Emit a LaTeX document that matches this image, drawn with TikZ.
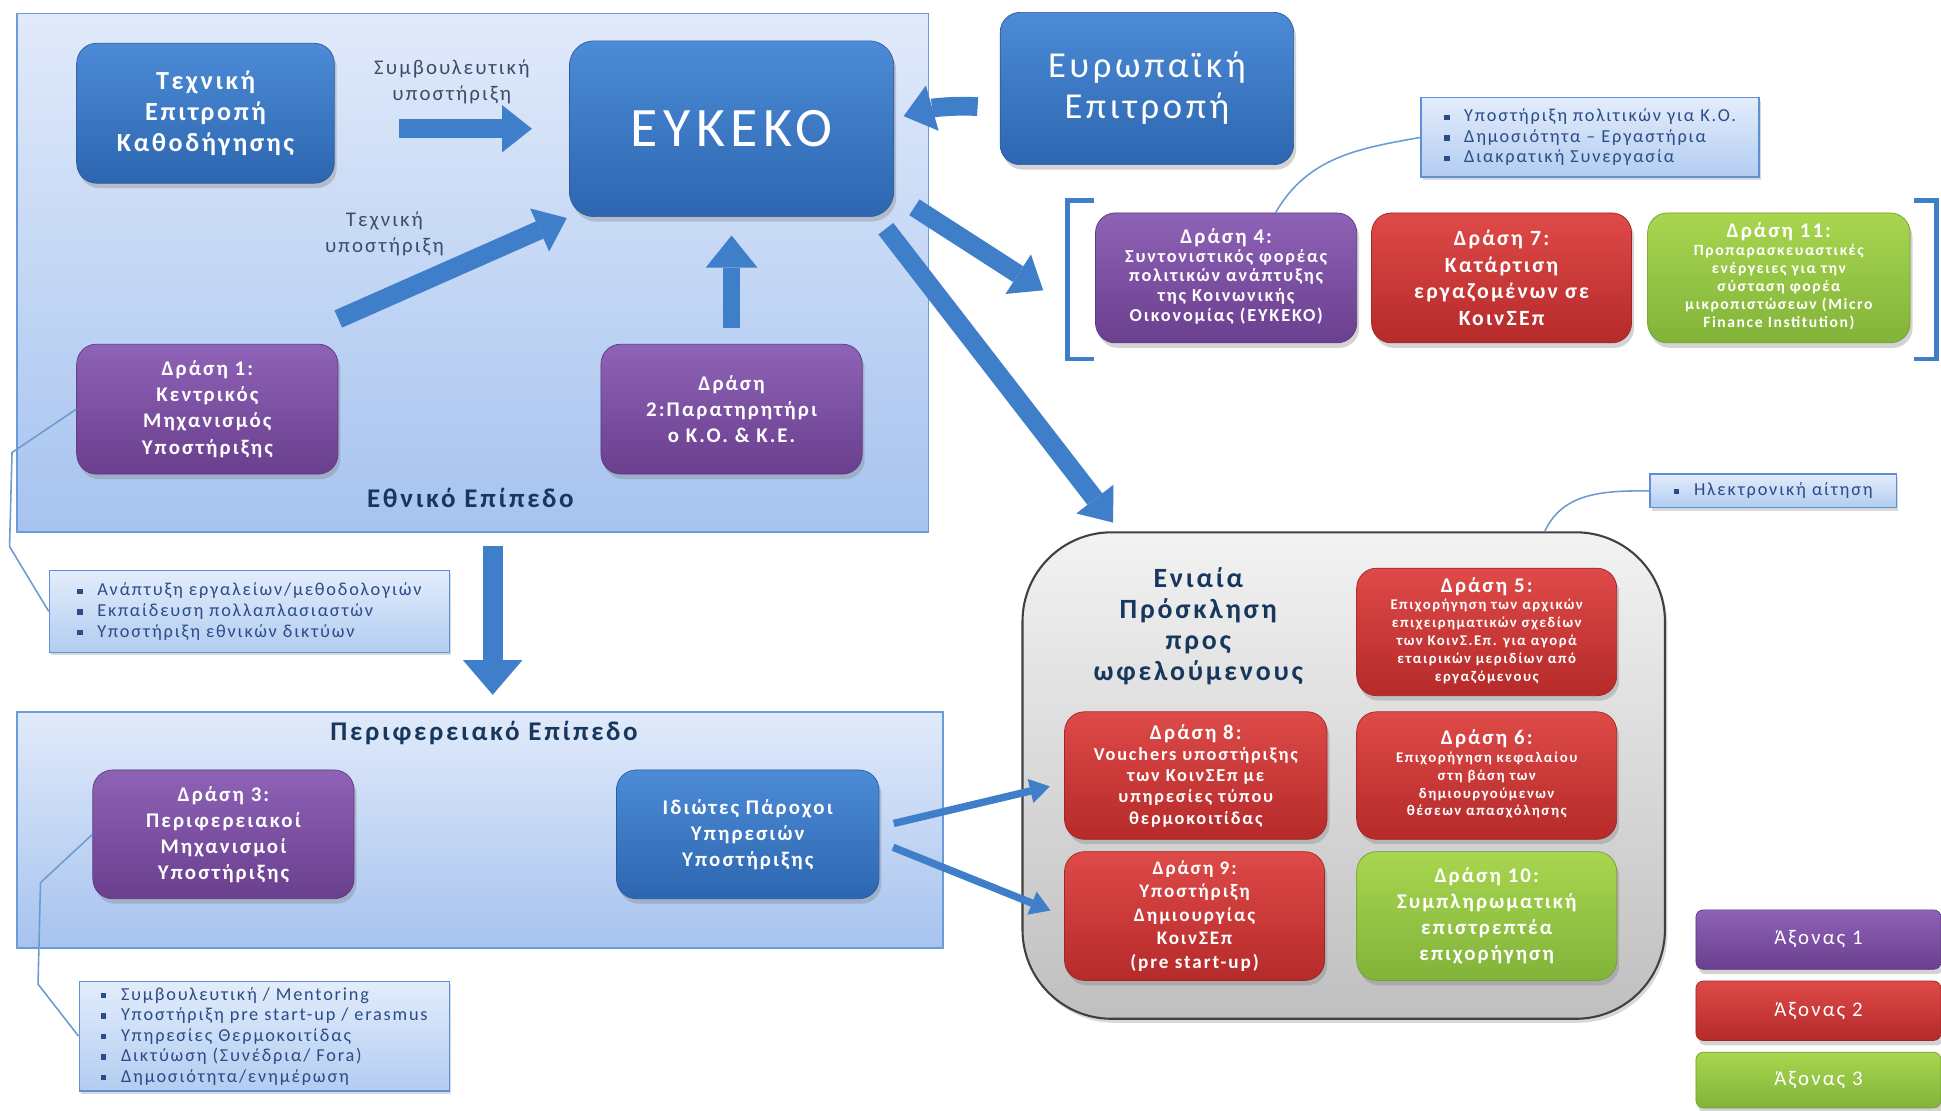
\documentclass[tikz,border=0pt]{standalone}
\usepackage{fontspec}
\setmainfont{Carlito}[LetterSpace=10]
\usepackage{tikz}
\usepackage{xcolor}
\usetikzlibrary{positioning,arrows.meta,shadows,calc}
\definecolor{bluetop}{HTML}{4C8BD6}
\definecolor{bluebot}{HTML}{2D66B0}
\definecolor{blueedge}{HTML}{2A5D9F}
\definecolor{purtop}{HTML}{8E62B6}
\definecolor{purbot}{HTML}{6A3F8E}
\definecolor{puredge}{HTML}{5E3880}
\definecolor{redtop}{HTML}{DE4A48}
\definecolor{redbot}{HTML}{B52A2A}
\definecolor{rededge}{HTML}{A02525}
\definecolor{grntop}{HTML}{A8D64F}
\definecolor{grnbot}{HTML}{82B33A}
\definecolor{grnedge}{HTML}{739F33}
\definecolor{lvltop}{HTML}{E1EAFA}
\definecolor{lvlbot}{HTML}{A6C3EF}
\definecolor{frame}{HTML}{6B9BD8}
\definecolor{notetop}{HTML}{E3EDFB}
\definecolor{notebot}{HTML}{B2CCF1}
\definecolor{noteedge}{HTML}{5F90D3}
\definecolor{notetxt}{HTML}{2B4C86}
\definecolor{navy}{HTML}{17375E}
\definecolor{lbltxt}{HTML}{3A4D6B}
\definecolor{arrowblue}{HTML}{3F7FC9}
\definecolor{calloutblue}{HTML}{6B9BD2}
\newcommand{\sqb}{\raisebox{0.2ex}{\rule{0.3em}{0.3em}}\hspace{0.8em}}
\newcommand{\detail}[3]{{\fontsize{#1}{#2}\selectfont\begin{tabular}{@{}c@{}}#3\end{tabular}}}

\begin{document}
\begin{tikzpicture}[every node/.style={font=\fontsize{12}{15}\selectfont}]
    \tikzstyle{box}=[rounded corners=0.4cm,align=center,text=white,font=\fontsize{12}{15}\selectfont\bfseries,
                     drop shadow={shadow xshift=0.05cm,shadow yshift=-0.1cm,opacity=0.35}];
    \tikzstyle{bbox}=[box,top color=bluetop,bottom color=bluebot,draw=blueedge];
    \tikzstyle{pbox}=[box,top color=purtop,bottom color=purbot,draw=puredge,minimum width=5.275cm,minimum height=2.625cm];
    \tikzstyle{rbox}=[box,top color=redtop,bottom color=redbot,draw=rededge,minimum width=5.25cm,minimum height=2.6cm];
    \tikzstyle{gbox}=[box,top color=grntop,bottom color=grnbot,draw=grnedge,minimum width=5.25cm,minimum height=2.6cm];
    \tikzstyle{level}=[draw=frame,line width=1pt,top color=lvltop,bottom color=lvlbot];
    \tikzstyle{note}=[draw=noteedge,line width=0.8pt,top color=notetop,bottom color=notebot,align=left,text=notetxt,
                      font=\fontsize{10.5}{11.8}\selectfont,
                      drop shadow={shadow xshift=0.04cm,shadow yshift=-0.06cm,opacity=0.3}];
    \tikzstyle{lbl}=[align=center,text=lbltxt];
    \tikzstyle{title}=[text=navy,font=\fontsize{15.5}{18}\selectfont\bfseries];
    \tikzstyle{fat}=[draw=arrowblue,line width=0.38cm,-{Triangle[width=0.95cm,length=0.6cm,line width=0pt]}];
    \tikzstyle{slim}=[draw=arrowblue,line width=0.15cm,-{Triangle[width=0.5cm,length=0.4cm,line width=0pt]}];
    \tikzstyle{callout}=[draw=calloutblue,line width=0.9pt];
    \tikzstyle{brk}=[draw=arrowblue,line width=0.1cm];

    \useasboundingbox (0,0) rectangle (39.2,-22.425);

    % frames
    \node[level,minimum width=18.4cm,minimum height=10.475cm] (nat) at (9.55,-5.5125) {};
    \node[level,minimum width=18.7cm,minimum height=4.775cm]  (reg) at (9.7,-16.7625) {};
    \node[draw=black!75,line width=1.2pt,top color=black!5,bottom color=black!25,rounded corners=1.8cm,
          minimum width=12.975cm,minimum height=9.825cm,
          drop shadow={shadow xshift=0.05cm,shadow yshift=-0.08cm,opacity=0.3}] (grey) at (27.1375,-15.6625) {};

    % national level
    \node[bbox,minimum width=5.2cm,minimum height=2.825cm,font=\fontsize{15}{17.8}\selectfont\bfseries]
        (tek) at (4.15,-2.2875) {Τεχνική\\Επιτροπή\\Καθοδήγησης};
    \node[bbox,minimum width=6.55cm,minimum height=3.55cm,rounded corners=0.5cm,font=\fontsize{32}{36}\selectfont]
        (eykeko) at (14.775,-2.6) {ΕΥΚΕΚΟ};
    \node[bbox,minimum width=5.925cm,minimum height=3.075cm,font=\fontsize{21}{23.5}\selectfont]
        (ec) at (23.1625,-1.7875) {Ευρωπαϊκή\\Επιτροπή};
    \node[pbox] (d1) at (4.1875,-8.2625) {Δράση 1:\\Κεντρικός\\Μηχανισμός\\Υποστήριξης};
    \node[pbox] (d2) at (14.775,-8.2625) {Δράση\\2:Παρατηρητήρι\\ο Κ.Ο. \& Κ.Ε.};
    \node[title] (natlbl) at (9.5,-10.05) {Εθνικό Επίπεδο};

    \draw[fat,shorten <=1.3cm,shorten >=0.75cm] (tek.east |- eykeko.west) --
        node[lbl,above=0.2cm]{Συμβουλευτική\\υποστήριξη} (eykeko.west);
    \draw[fat,shorten >=0.05cm] ([yshift=0.5cm]d1.north east) --
        node[lbl,pos=0.2,above=0.55cm]{Τεχνική\\υποστήριξη} (eykeko.south west);
    \draw[fat,line width=0.35cm,-{Triangle[width=1.05cm,length=0.65cm,line width=0pt]},
          shorten <=0.325cm,shorten >=0.375cm] (d2.north) -- (eykeko.south);
    \draw[fat,shorten <=0.45cm,shorten >=0.2cm] ([yshift=-0.4cm]ec.west) to[bend right=10] ([yshift=0.2cm]eykeko.east);

    % notes
    \node[note,minimum width=8.075cm,minimum height=1.65cm] (n1) at (5.0375,-12.35)
        {\sqb Ανάπτυξη εργαλείων/μεθοδολογιών\\\sqb Εκπαίδευση πολλαπλασιαστών\\\sqb Υποστήριξη εθνικών δικτύων};
    \draw[callout] (d1.west) -- ++(-1.3,-0.875) -- ++(-0.05,-1.9) -- (n1.west);

    \draw[fat,line width=0.4cm,-{Triangle[width=1.2cm,length=0.7cm,line width=0pt]},
          shorten <=0.25cm,shorten >=0.325cm] ([xshift=0.4cm]nat.south) -- ([xshift=0.4cm]nat.south |- reg.north);

    % regional level
    \node[title] (reglbl) at (9.775,-14.8) {Περιφερειακό Επίπεδο};
    \node[pbox,minimum height=2.6cm] (d3) at (4.5125,-16.85) {Δράση 3:\\Περιφερειακοί\\Μηχανισμοί\\Υποστήριξης};
    \node[bbox,minimum width=5.3cm,minimum height=2.6cm] (priv) at (15.1,-16.85) {Ιδιώτες Πάροχοι\\Υπηρεσιών\\Υποστήριξης};
    \node[note,minimum width=7.475cm,minimum height=2.2cm] (n2) at (5.3375,-20.925)
        {\sqb Συμβουλευτική / Mentoring\\\sqb Υποστήριξη pre start-up / erasmus\\\sqb Υπηρεσίες Θερμοκοιτίδας\\
         \sqb Δικτύωση (Συνέδρια/ Fora)\\\sqb Δημοσιότητα/ενημέρωση};
    \draw[callout] (d3.west) -- ++(-1.05,-0.975) -- ++(-0.05,-2.05) -- (n2.west);

    % actions under the commission
    \node[pbox] (d4) at (24.7625,-5.6125)
        {Δράση 4:\\\detail{10.5}{11.4}{Συντονιστικός φορέας\\πολιτικών ανάπτυξης\\της Κοινωνικής\\Οικονομίας (ΕΥΚΕΚΟ)}};
    \node[rbox,minimum height=2.625cm,font=\fontsize{12.5}{15.2}\selectfont\bfseries] (d7) at (30.325,-5.6125)
        {Δράση 7:\\Κατάρτιση\\εργαζομένων σε\\ΚοινΣΕπ};
    \node[gbox,minimum width=5.3cm,minimum height=2.625cm] (d11) at (35.925,-5.6125)
        {Δράση 11:\\\detail{9}{10.4}{Προπαρασκευαστικές\\ενέργειες για την\\σύσταση φορέα\\μικροπιστώσεων (Micro\\Finance Institution)}};
    \draw[brk] (22.1,-4.05) -- (21.55,-4.05) -- (21.55,-7.25) -- (22.1,-7.25);
    \draw[brk] (38.65,-4.05) -- (39.1,-4.05) -- (39.1,-7.25) -- (38.65,-7.25);
    \node[note,minimum width=6.825cm,minimum height=1.6cm] (n3) at (32.1125,-2.775)
        {\sqb Υποστήριξη πολιτικών για Κ.Ο.\\\sqb Δημοσιότητα – Εργαστήρια\\\sqb Διακρατική Συνεργασία};
    \draw[callout] ([xshift=1cm]d4.north) to[out=60,in=190] (n3.west);
    \draw[fat,shorten <=0.1cm] ([xshift=0.325cm,yshift=0.25cm]eykeko.south east) -- ([xshift=-1.05cm,yshift=-0.25cm]d4.west);

    % single call
    \node[align=center,text=navy,font=\fontsize{16}{17.8}\selectfont\bfseries] (call) at (24.2,-12.65)
        {Ενιαία\\Πρόσκληση\\προς\\ωφελούμενους};
    \node[rbox,minimum height=2.575cm] (d5) at (30.025,-12.7625)
        {Δράση 5:\\\detail{8.5}{10.3}{Επιχορήγηση των αρχικών\\επιχειρηματικών σχεδίων\\των ΚοινΣ.Επ. για αγορά\\εταιρικών μεριδίων από\\εργαζόμενους}};
    \node[rbox,minimum width=5.3cm,minimum height=2.575cm,font=\fontsize{10.5}{12.2}\selectfont\bfseries] (d8) at (24.15,-15.6625)
        {\fontsize{12}{12.2}\selectfont Δράση 8:\\Vouchers υποστήριξης\\των ΚοινΣΕπ με\\υπηρεσίες τύπου\\θερμοκοιτίδας};
    \node[rbox,minimum height=2.575cm] (d6) at (30.025,-15.6625)
        {Δράση 6:\\\detail{8.5}{10.3}{Επιχορήγηση κεφαλαίου\\στη βάση των\\δημιουργούμενων\\θέσεων απασχόλησης}};
    \node[rbox,font=\fontsize{11}{13.5}\selectfont\bfseries] (d9) at (24.125,-18.5)
        {Δράση 9:\\Υποστήριξη\\Δημιουργίας\\ΚοινΣΕπ\\(pre start-up)};
    \node[gbox] (d10) at (30.025,-18.5) {Δράση 10:\\Συμπληρωματική\\επιστρεπτέα\\επιχορήγηση};
    \node[note,minimum width=4.975cm,minimum height=0.675cm,inner sep=2pt] (n4) at (35.8125,-9.9125)
        {\sqb Ηλεκτρονική αίτηση};
    \draw[callout] ([xshift=4.06cm]grey.north) to[out=65,in=180] (n4.west);
    \draw[fat,shorten <=0.3cm] ([xshift=-0.35cm]eykeko.south east) -- ([xshift=1.85cm,yshift=0.175cm]grey.north west);
    \draw[slim,shorten <=0.3cm,shorten >=0.3cm] ([yshift=0.15cm]priv.east) -- ([yshift=-0.15cm]d8.west);
    \draw[slim,shorten <=0.3cm,shorten >=0.3cm] ([yshift=-0.15cm]priv.east) -- (d9.west);

    % legend
    \node[pbox,minimum width=4.95cm,minimum height=1.2cm,rounded corners=0.15cm,font=\fontsize{12}{14}\selectfont] (ax1) at (36.725,-18.975) {Άξονας 1};
    \node[rbox,minimum width=4.95cm,minimum height=1.2cm,rounded corners=0.15cm,font=\fontsize{12}{14}\selectfont] (ax2) at (36.725,-20.4125) {Άξονας 2};
    \node[gbox,minimum width=4.95cm,minimum height=1.125cm,rounded corners=0.15cm,font=\fontsize{12}{14}\selectfont] (ax3) at (36.725,-21.8125) {Άξονας 3};
\end{tikzpicture}
\end{document}
